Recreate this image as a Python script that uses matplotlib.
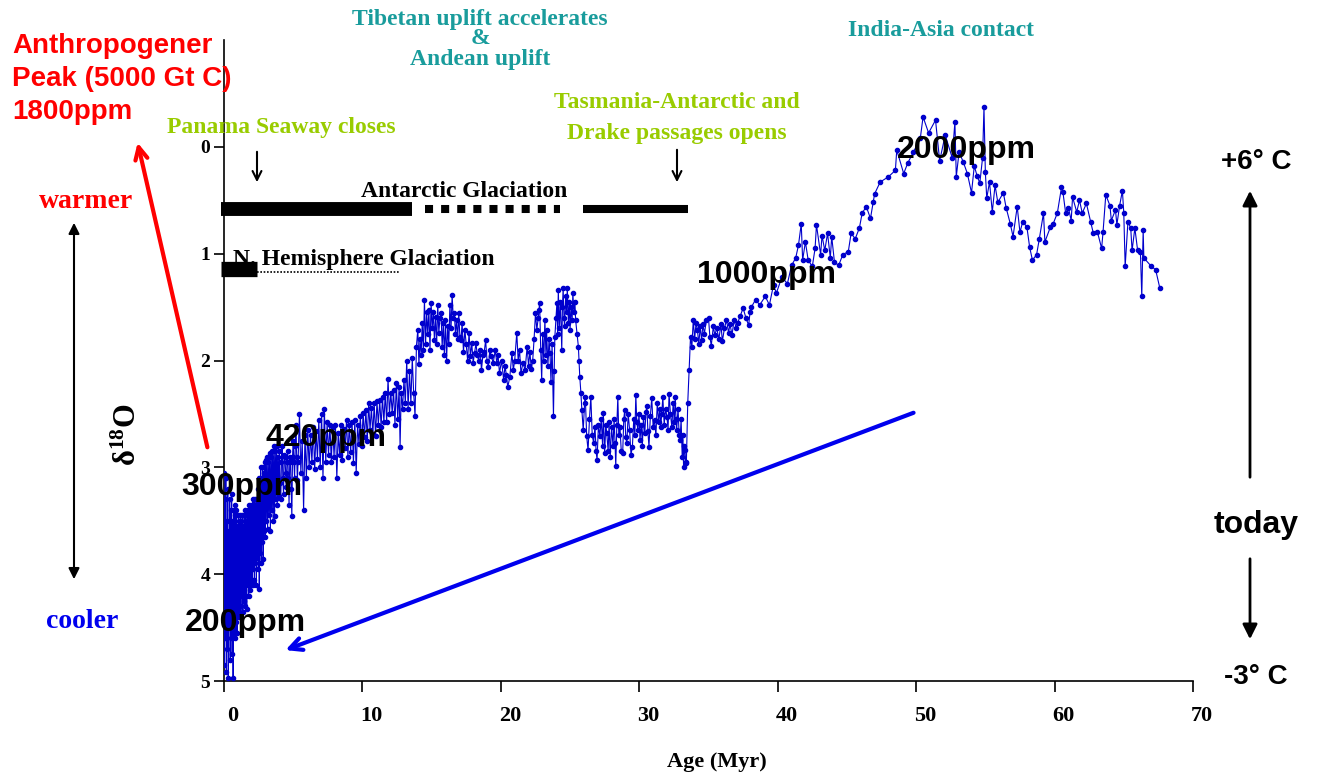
import numpy as np
import matplotlib
matplotlib.use("Agg")
import matplotlib.pyplot as plt
import matplotlib.transforms as mtransforms

# ==========================================
# DATA: benthic d18O, (age Myr, d18O permil)
# ==========================================
plio = [(0.00, 3.05), (0.03, 4.85), (0.06, 3.30), (0.10, 4.60), (0.13, 3.10), (0.17, 4.92), (0.20, 3.50),
        (0.24, 4.70), (0.27, 3.20), (0.31, 4.97), (0.34, 3.60), (0.38, 4.50), (0.41, 3.30), (0.45, 4.80),
        (0.48, 3.40), (0.52, 4.60), (0.55, 3.25), (0.59, 4.75), (0.62, 3.50), (0.66, 4.97), (0.69, 3.40),
        (0.73, 4.55), (0.76, 3.45), (0.80, 4.60), (0.83, 3.35), (0.87, 4.45), (0.90, 3.40), (0.94, 4.55),
        (0.97, 3.55), (1.01, 4.35), (1.04, 3.45), (1.08, 4.40), (1.11, 3.50), (1.15, 4.30), (1.18, 3.45),
        (1.22, 4.40), (1.25, 3.50), (1.29, 4.20), (1.32, 3.45), (1.36, 4.35), (1.39, 3.55), (1.43, 4.25),
        (1.46, 3.45), (1.50, 4.30), (1.53, 3.40), (1.57, 4.20), (1.60, 3.50), (1.64, 4.33), (1.67, 3.45),
        (1.71, 4.10), (1.74, 3.40), (1.78, 4.20), (1.81, 3.35), (1.85, 4.15), (1.88, 3.45), (1.92, 4.10),
        (1.95, 3.35), (1.99, 4.05), (2.02, 3.40), (2.06, 4.10), (2.09, 3.30), (2.13, 3.95), (2.16, 3.40),
        (2.20, 4.05), (2.23, 3.30), (2.27, 3.90), (2.30, 3.35), (2.34, 4.10), (2.37, 3.30), (2.41, 3.85),
        (2.44, 3.20), (2.48, 3.95), (2.51, 3.10), (2.55, 4.14), (2.58, 3.20), (2.62, 3.80), (2.65, 3.00),
        (2.69, 3.90), (2.72, 3.10), (2.76, 3.70), (2.79, 3.00), (2.83, 3.86), (2.86, 3.05), (2.90, 3.60),
        (2.93, 2.95), (2.97, 3.65), (3.00, 2.93), (3.05, 3.50), (3.10, 2.90), (3.15, 3.58), (3.20, 2.95),
        (3.25, 3.45), (3.30, 2.87), (3.35, 3.60), (3.40, 2.90), (3.45, 3.40), (3.50, 2.85), (3.55, 3.50),
        (3.60, 2.80), (3.65, 3.46), (3.70, 2.85), (3.75, 3.30), (3.80, 2.80), (3.85, 3.35), (3.90, 2.90),
        (3.95, 3.27), (4.00, 2.85), (4.05, 3.15), (4.10, 3.30), (4.15, 2.95), (4.20, 2.80), (4.25, 3.10),
        (4.30, 3.25), (4.35, 2.88), (4.40, 2.90), (4.45, 3.05), (4.50, 3.18), (4.55, 2.95), (4.60, 2.85),
        (4.65, 3.10), (4.70, 3.35), (4.75, 2.95), (4.80, 2.90), (4.85, 3.20), (4.90, 3.46), (4.95, 2.90),
        (5.00, 2.75), (5.05, 2.95), (5.10, 3.10), (5.15, 2.80), (5.20, 2.60), (5.25, 2.90), (5.30, 3.12)]

mio = [(5.35, 2.95), (5.45, 2.50), (5.55, 3.05), (5.65, 2.75), (5.75, 3.40), (5.85, 2.70), (5.95, 3.10),
       (6.05, 2.65), (6.15, 3.00), (6.25, 2.70), (6.35, 2.95), (6.45, 2.62), (6.55, 3.02), (6.65, 2.66),
       (6.75, 2.92), (6.85, 2.56), (6.95, 3.00), (7.05, 2.50), (7.15, 3.10), (7.25, 2.45), (7.35, 2.95),
       (7.45, 2.58), (7.55, 2.88), (7.65, 2.60), (7.75, 2.95), (7.85, 2.62), (7.95, 2.90), (8.05, 2.60),
       (8.15, 3.10), (8.25, 2.68), (8.35, 2.88), (8.45, 2.60), (8.55, 2.93), (8.65, 2.64), (8.75, 2.82),
       (8.85, 2.56), (8.95, 2.90), (9.05, 2.60), (9.15, 2.86), (9.25, 2.58), (9.35, 2.96), (9.45, 2.56),
       (9.55, 3.05), (9.65, 2.60), (9.75, 2.78), (9.85, 2.52), (9.95, 2.80), (10.05, 2.49), (10.15, 2.72),
       (10.25, 2.46), (10.35, 2.75), (10.45, 2.40), (10.55, 2.65), (10.65, 2.44), (10.75, 2.70),
       (10.85, 2.40), (10.95, 2.71), (11.05, 2.38), (11.15, 2.60), (11.25, 2.37), (11.35, 2.62),
       (11.45, 2.34), (11.55, 2.58), (11.65, 2.30), (11.75, 2.58), (11.85, 2.17), (11.95, 2.50),
       (12.05, 2.30), (12.15, 2.49), (12.25, 2.28), (12.35, 2.60), (12.45, 2.21), (12.55, 2.55),
       (12.65, 2.25), (12.72, 2.81), (12.80, 2.30), (12.90, 2.45), (13.00, 2.18), (13.10, 2.40),
       (13.20, 2.00), (13.30, 2.45), (13.40, 2.10), (13.50, 2.40), (13.60, 1.98), (13.70, 2.30),
       (13.80, 2.52), (13.90, 1.87), (14.00, 1.71), (14.08, 2.03), (14.16, 1.80), (14.24, 1.95),
       (14.32, 1.65), (14.40, 1.90), (14.48, 1.43), (14.56, 1.85), (14.64, 1.55), (14.72, 1.75),
       (14.80, 1.53), (14.88, 1.90), (14.96, 1.46), (15.04, 1.70), (15.12, 1.55), (15.20, 1.81),
       (15.28, 1.59), (15.36, 1.85), (15.44, 1.48), (15.52, 1.74), (15.60, 1.60), (15.68, 1.56),
       (15.76, 1.87), (15.84, 1.65), (15.92, 1.95), (16.00, 1.62), (16.08, 2.00), (16.16, 1.68),
       (16.24, 1.85), (16.32, 1.48), (16.40, 1.70), (16.48, 1.39), (16.56, 1.60), (16.64, 1.56),
       (16.72, 1.75), (16.80, 1.62), (16.88, 1.80), (16.96, 1.56), (17.04, 1.78), (17.12, 1.81),
       (17.20, 1.65), (17.30, 1.92), (17.40, 1.71), (17.50, 1.85), (17.60, 2.00), (17.70, 1.74),
       (17.80, 1.96), (17.90, 1.84), (18.00, 2.02), (18.10, 1.93), (18.20, 1.84), (18.30, 1.95),
       (18.40, 2.00), (18.50, 1.90), (18.60, 2.09), (18.70, 1.95), (18.80, 1.92), (18.90, 1.81),
       (19.00, 2.00), (19.10, 2.06), (19.20, 1.90), (19.30, 1.96), (19.45, 2.02), (19.60, 1.90),
       (19.70, 2.02), (19.80, 1.95), (19.90, 2.12), (20.05, 2.00), (20.20, 2.18), (20.30, 2.05),
       (20.40, 2.14), (20.50, 2.25), (20.65, 2.15), (20.80, 1.93), (20.90, 2.09), (21.00, 2.00),
       (21.15, 1.74), (21.25, 2.00), (21.35, 1.90), (21.45, 2.12), (21.60, 2.02), (21.75, 2.09),
       (21.90, 1.87), (22.00, 2.05), (22.10, 1.92), (22.20, 2.08), (22.30, 2.00), (22.40, 1.80),
       (22.50, 1.56), (22.60, 1.71), (22.70, 1.60), (22.75, 1.53)]

oligo = [(22.80, 1.46), (22.88, 1.90), (22.95, 2.18), (23.02, 1.75), (23.10, 2.00), (23.18, 1.62),
         (23.26, 1.95), (23.30, 1.71), (23.40, 2.05), (23.48, 1.80), (23.55, 1.93), (23.62, 2.20),
         (23.70, 1.85), (23.80, 2.52), (23.85, 2.10), (23.90, 1.78), (23.98, 1.60), (24.05, 1.46),
         (24.10, 1.75), (24.15, 1.34), (24.22, 1.70), (24.30, 1.45), (24.40, 1.90), (24.45, 1.50),
         (24.50, 1.32), (24.56, 1.60), (24.60, 1.68), (24.68, 1.40), (24.75, 1.55), (24.80, 1.32),
         (24.88, 1.65), (24.95, 1.45), (25.00, 1.71), (25.08, 1.50), (25.15, 1.62), (25.20, 1.37),
         (25.28, 1.55), (25.35, 1.45), (25.40, 1.62), (25.50, 1.75), (25.60, 1.87), (25.65, 2.00),
         (25.70, 2.15), (25.78, 2.30), (25.85, 2.46), (25.95, 2.65), (26.05, 2.40), (26.10, 2.34),
         (26.20, 2.71), (26.30, 2.84), (26.40, 2.55), (26.50, 2.34), (26.60, 2.70), (26.70, 2.77),
         (26.80, 2.62), (26.88, 2.85), (26.95, 2.93), (27.05, 2.60), (27.15, 2.71), (27.25, 2.55),
         (27.35, 2.80), (27.40, 2.49), (27.50, 2.87), (27.58, 2.60), (27.65, 2.68), (27.75, 2.85),
         (27.82, 2.58), (27.90, 2.90), (28.00, 2.62), (28.10, 2.80), (28.18, 2.55), (28.25, 2.77),
         (28.30, 2.99), (28.38, 2.60), (28.45, 2.34), (28.52, 2.70), (28.60, 2.62), (28.70, 2.85),
         (28.80, 2.87), (28.88, 2.55), (28.95, 2.46), (29.02, 2.72), (29.10, 2.77), (29.20, 2.50),
         (29.30, 2.65), (29.40, 2.88), (29.50, 2.81), (29.60, 2.55), (29.68, 2.70), (29.75, 2.32),
         (29.82, 2.58), (29.90, 2.65), (29.98, 2.50), (30.05, 2.74), (30.15, 2.60), (30.22, 2.80),
         (30.30, 2.53), (30.40, 2.68), (30.48, 2.48), (30.55, 2.43), (30.62, 2.66), (30.70, 2.81),
         (30.80, 2.52), (30.90, 2.35), (31.00, 2.62), (31.10, 2.56), (31.20, 2.70), (31.30, 2.40),
         (31.40, 2.58), (31.48, 2.45), (31.55, 2.62), (31.62, 2.50), (31.70, 2.34), (31.80, 2.60),
         (31.90, 2.45), (32.00, 2.53), (32.08, 2.65), (32.15, 2.31), (32.25, 2.50), (32.35, 2.62),
         (32.45, 2.40), (32.52, 2.58), (32.60, 2.34), (32.65, 2.55), (32.70, 2.65), (32.80, 2.45),
         (32.88, 2.70), (32.95, 2.74), (33.02, 2.55), (33.10, 2.90), (33.15, 2.70), (33.20, 3.00),
         (33.25, 2.80), (33.30, 2.84), (33.35, 2.95), (33.40, 2.96), (33.50, 2.40), (33.60, 2.09),
         (33.70, 1.78), (33.80, 1.87), (33.90, 1.62)]

eocene = [(34.00, 1.80), (34.10, 1.65), (34.20, 1.71), (34.30, 1.85), (34.40, 1.68), (34.50, 1.81),
          (34.60, 1.66), (34.70, 1.75), (34.85, 1.62), (35.00, 1.60), (35.10, 1.78), (35.20, 1.86),
          (35.35, 1.68), (35.45, 1.76), (35.60, 1.70), (35.75, 1.80), (35.90, 1.66), (36.00, 1.82),
          (36.15, 1.70), (36.30, 1.62), (36.45, 1.74), (36.55, 1.66), (36.70, 1.76), (36.85, 1.62),
          (37.00, 1.70), (37.10, 1.65), (37.30, 1.58), (37.50, 1.51), (37.70, 1.60), (37.90, 1.67),
          (38.00, 1.55), (38.10, 1.50), (38.40, 1.43), (38.70, 1.48), (39.10, 1.40), (39.40, 1.48),
          (39.70, 1.29), (39.90, 1.37), (40.30, 1.22), (40.70, 1.28), (41.00, 1.11), (41.30, 1.04),
          (41.50, 0.92), (41.70, 0.72), (41.80, 1.06), (42.00, 0.89), (42.20, 1.06), (42.50, 1.12),
          (42.70, 0.95), (42.80, 0.73), (43.10, 1.01), (43.20, 0.83), (43.40, 0.97), (43.60, 0.81),
          (43.80, 1.04), (43.90, 0.84), (44.10, 1.08), (44.40, 1.11), (44.70, 1.01), (45.10, 0.98),
          (45.30, 0.81), (45.60, 0.86), (45.90, 0.76), (46.10, 0.62), (46.40, 0.56), (46.70, 0.67),
          (46.90, 0.52), (47.00, 0.44), (47.40, 0.33), (48.00, 0.28), (48.50, 0.22), (48.60, 0.03),
          (49.10, 0.25), (49.40, 0.15), (49.80, 0.05), (50.30, -0.08), (50.50, -0.28), (50.90, -0.13),
          (51.40, -0.25), (51.70, 0.13), (52.10, -0.11), (52.60, 0.10), (52.80, -0.23), (52.90, 0.28),
          (53.10, 0.05), (53.40, 0.14), (53.70, 0.25), (54.00, 0.43), (54.20, 0.18), (54.40, 0.27),
          (54.60, 0.34), (54.80, 0.10), (54.90, -0.37), (55.00, 0.24), (55.10, 0.48), (55.30, 0.33),
          (55.50, 0.61), (55.70, 0.36), (55.90, 0.52)]

paleo = [(56.30, 0.43), (56.50, 0.57), (56.80, 0.72), (57.00, 0.84), (57.30, 0.56), (57.50, 0.80),
         (57.70, 0.70), (58.00, 0.75), (58.20, 0.94), (58.40, 1.06), (58.70, 1.01), (58.90, 0.86),
         (59.20, 0.62), (59.30, 0.89), (59.70, 0.75), (59.90, 0.72), (60.20, 0.62), (60.50, 0.38),
         (60.60, 0.42), (60.80, 0.62), (61.00, 0.57), (61.20, 0.69), (61.30, 0.47), (61.60, 0.61),
         (61.80, 0.50), (62.00, 0.62), (62.30, 0.53), (62.60, 0.70), (62.80, 0.81), (63.10, 0.80),
         (63.40, 0.95), (63.50, 0.80), (63.70, 0.45), (64.00, 0.55), (64.10, 0.69), (64.40, 0.59),
         (64.50, 0.73), (64.70, 0.55), (64.90, 0.41), (65.00, 0.62), (65.10, 1.12), (65.30, 0.70),
         (65.50, 0.76), (65.60, 0.97), (65.80, 0.76), (66.00, 0.97), (66.20, 0.98), (66.30, 1.40),
         (66.40, 0.78), (66.45, 1.04), (67.00, 1.12), (67.30, 1.15), (67.60, 1.32)]

record = plio + mio + oligo + eocene + paleo
ages = [a for a, _ in record]
d18o = [v for _, v in record]

x_ticks = [0, 10, 20, 30, 40, 50, 60, 70]
y_ticks = [0, 1, 2, 3, 4, 5]

SERIF = "Liberation Serif"
SANS = "Liberation Sans"
W, H = 1319, 777


def fp(px, py):
    # pixel (top-left origin) -> figure fraction
    return (px / W, 1 - py / H)


plt.rcParams['mathtext.fontset'] = 'custom'
plt.rcParams['mathtext.rm'] = 'Liberation Serif:bold'
plt.rcParams['mathtext.it'] = 'Liberation Serif:bold'

fig = plt.figure(figsize=(W / 100, H / 100), dpi=100)
ax = fig.add_axes([224 / W, 1 - 681 / H, (1193 - 224) / W, (681 - 40) / H])
ax.set_xlim(0, 70)
ax.set_ylim(5, -1)
ax.spines['top'].set_visible(False)
ax.spines['right'].set_visible(False)
for s in ('left', 'bottom'):
    ax.spines[s].set_linewidth(1.2)

ax.set_xticks(x_ticks)
ax.set_yticks(y_ticks)
ax.tick_params(axis='x', direction='out', length=8, width=1.2, pad=10)
ax.tick_params(axis='y', direction='out', length=7, width=1.2, pad=3)
for lab in ax.get_xticklabels():
    lab.set_fontfamily(SERIF); lab.set_fontweight('bold'); lab.set_fontsize(16)
    lab.set_transform(lab.get_transform() + mtransforms.ScaledTranslation(0.09, 0, fig.dpi_scale_trans))
for lab in ax.get_yticklabels():
    lab.set_fontfamily(SERIF); lab.set_fontweight('bold'); lab.set_fontsize(14)

# --- the d18O record ---
ax.plot(ages, d18o, color='#0000cc', lw=0.8, marker='o', ms=3.0, mec='#0000cc', mfc='#0000cc', zorder=3)

# --- glaciation bars ---
ax.plot([-0.2, 13.6], [0.58, 0.58], color='k', lw=10, solid_capstyle='butt', clip_on=False)
ax.plot([14.5, 24.3], [0.58, 0.58], color='k', lw=5.8, linestyle=(0, (1, 1)), dash_capstyle='butt')
ax.plot([25.9, 33.5], [0.58, 0.58], color='k', lw=5.8, solid_capstyle='butt')
ax.plot([-0.2, 2.4], [1.145, 1.145], color='k', lw=11, solid_capstyle='butt', clip_on=False)
ax.plot([2.4, 12.7], [1.17, 1.17], color='k', lw=1.2, linestyle=(0, (1, 1)))

ax.text(9.9, 0.42, "Antarctic Glaciation", fontfamily=SERIF, fontweight='bold', fontsize=17,
        ha='left', va='center')
ax.text(0.65, 1.05, "N. Hemisphere Glaciation", fontfamily=SERIF, fontweight='bold', fontsize=17,
        ha='left', va='center')

# --- small black event arrows ---
arr_k = dict(arrowstyle='->', color='k', lw=1.5, mutation_scale=16)
ax.annotate('', xy=fp(257, 185), xytext=fp(257, 149), xycoords='figure fraction', arrowprops=arr_k)
ax.annotate('', xy=fp(677, 185), xytext=fp(677, 147), xycoords='figure fraction', arrowprops=arr_k)

# --- event labels ---
green = '#99cc00'
teal = '#199c9c'
ev = dict(fontfamily=SERIF, fontweight='bold', fontsize=17, ha='center', va='center')
fig.text(*fp(281, 128), "Panama Seaway closes", color=green, **ev)
fig.text(*fp(677, 103), "Tasmania-Antarctic and", color=green, **ev)
fig.text(*fp(677, 133), "Drake passages opens", color=green, **ev)
fig.text(*fp(480, 19), "Tibetan uplift accelerates", color=teal, **ev)
fig.text(*fp(480, 39), "&", color=teal, **ev)
fig.text(*fp(480, 59), "Andean uplift", color=teal, **ev)
fig.text(*fp(941, 31), "India-Asia contact", color=teal, **ev)

# --- CO2 labels ---
for txt, px, py in [("2000ppm", 897, 150), ("1000ppm", 697, 275), ("420ppm", 265, 438),
                    ("300ppm", 181, 487), ("200ppm", 185, 623)]:
    fig.text(*fp(px, py), txt, fontfamily=SANS, fontweight='bold', fontsize=23,
             ha='left', va='center', zorder=5)

# --- left side ---
for txt, py in [("Anthropogener", 46), ("Peak (5000 Gt C)", 79), ("1800ppm", 112)]:
    fig.text(*fp(12, py), txt, fontfamily=SANS, fontweight='bold', fontsize=20, color='#ff0000',
             ha='left', va='center')
ax.annotate('', xy=fp(137, 140), xytext=fp(208, 450), xycoords='figure fraction',
            arrowprops=dict(arrowstyle='->', color='#ff0000', lw=3, mutation_scale=22))
fig.text(*fp(86, 202), "warmer", fontfamily=SERIF, fontweight='bold', fontsize=20, color='#ff0000',
         ha='center', va='center')
fig.text(*fp(82, 622), "cooler", fontfamily=SERIF, fontweight='bold', fontsize=20, color='#0000ee',
         ha='center', va='center')
ax.annotate('', xy=fp(74, 220), xytext=fp(74, 582), xycoords='figure fraction',
            arrowprops=dict(arrowstyle='<|-|>', color='k', lw=1.5, mutation_scale=16))
fig.text(*fp(127, 435), r"$\mathrm{\delta^{18}O}$", fontsize=22, rotation=90, ha='center', va='center')

# --- blue trend arrow ---
ax.annotate('', xy=(4.25, 4.72), xytext=(50, 2.48),
            arrowprops=dict(arrowstyle='->', color='#0000ee', lw=3, mutation_scale=22))

# --- right side temperature scale ---
for txt, py, sz in [("+6° C", 162, 20), ("today", 525, 23), ("-3° C", 677, 20)]:
    fig.text(*fp(1256, py), txt, fontfamily=SANS, fontweight='bold', fontsize=sz,
             ha='center', va='center')
ax.annotate('', xy=fp(1250, 188), xytext=fp(1250, 480), xycoords='figure fraction',
            arrowprops=dict(arrowstyle='-|>', color='k', lw=2, mutation_scale=22))
ax.annotate('', xy=fp(1250, 642), xytext=fp(1250, 556), xycoords='figure fraction',
            arrowprops=dict(arrowstyle='-|>', color='k', lw=2, mutation_scale=22))

fig.text(*fp(717, 762), "Age (Myr)", fontfamily=SERIF, fontweight='bold', fontsize=16,
         ha='center', va='center')

fig.savefig("out.png", dpi=100)
